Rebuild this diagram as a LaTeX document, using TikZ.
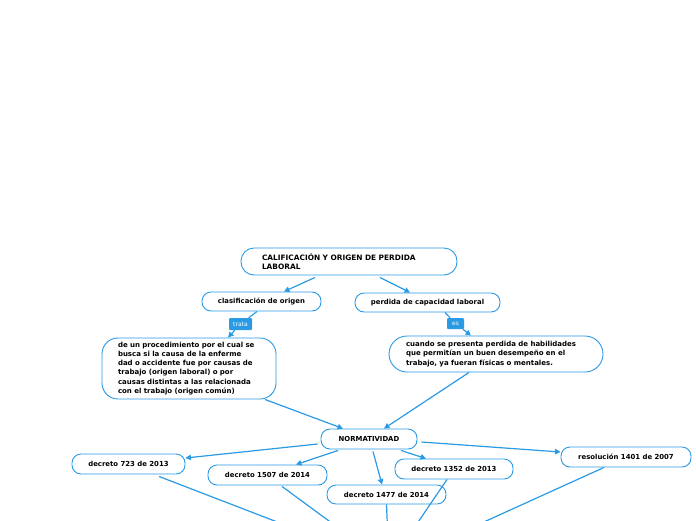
\documentclass[tikz,border=0pt]{standalone}
\usepackage{fontspec}
\setmainfont{DejaVu Sans}
\usetikzlibrary{arrows.meta}
\definecolor{mmblue}{HTML}{2A9AE5}
\begin{document}
\begin{tikzpicture}[x=1pt,y=-1pt,
  box/.style={draw=mmblue, line width=0.9pt, rounded corners=9pt, fill=white,
    font=\fontsize{6.9}{9}\selectfont\bfseries, inner sep=0pt, align=center},
  bigbox/.style={box, rounded corners=16pt, align=left, font=\fontsize{7}{9.1}\selectfont\bfseries},
  lab/.style={fill=mmblue, text=white, font=\fontsize{6}{7}\selectfont,
    inner sep=0pt, rounded corners=1pt},
  conn/.style={draw=mmblue, line width=1.2pt},
  arr/.style={conn, -{Triangle[length=5.5pt,width=5.5pt]}}]
\useasboundingbox (0,0) rectangle (696,520);
% nodes
\node[bigbox, rounded corners=13pt, minimum height=27pt, text width=174pt, inner xsep=21pt,
  font=\fontsize{7.4}{9.3}\selectfont\bfseries]
  (title) at (349,261.5) {CALIFICACIÓN Y ORIGEN DE PERDIDA\\LABORAL};
\node[box, minimum width=119pt, minimum height=19pt] (clas) at (261.5,301.5) {clasificación de origen};
\node[box, minimum width=145pt, minimum height=19pt] (perd) at (427.5,302.5) {perdida de capacidad laboral};
\node[lab, minimum width=23pt, minimum height=12pt] (trata) at (240.5,324) {trata};
\node[lab, minimum width=17pt, minimum height=11pt] (es) at (455.5,323.5) {es};
\node[bigbox, minimum height=61pt, text width=142pt, inner xsep=16pt] (left) at (189,368.5)
  {de un procedimiento por el cual se\\busca si la causa de la enferme\\dad o accidente fue por causas de\\trabajo (origen laboral) o por\\causas distintas a las relacionada\\con el trabajo (origen común)};
\node[bigbox, minimum height=36pt, text width=180pt, inner xsep=17pt, rounded corners=18pt] (right) at (496,354)
  {cuando se presenta perdida de habilidades\\que permitían un buen desempeño en el\\trabajo, ya fueran físicas o mentales.};
\node[box, minimum width=96pt, minimum height=20pt] (norm) at (369,439) {NORMATIVIDAD};
\node[box, minimum width=113pt, minimum height=20pt] (d723) at (128.5,464) {decreto 723 de 2013};
\node[box, minimum width=119pt, minimum height=20pt] (d1507) at (267.5,475) {decreto 1507 de 2014};
\node[box, minimum width=118pt, minimum height=20pt] (d1352) at (454,469) {decreto 1352 de 2013};
\node[box, minimum width=119pt, minimum height=19pt] (d1477) at (386.5,494.5) {decreto 1477 de 2014};
\node[box, minimum width=130pt, minimum height=20pt] (res) at (626,457) {resolución 1401 de 2007};
\coordinate (bot) at (389,565);
% connectors
\draw[arr] ([xshift=-34pt,yshift=-2pt]title.south) -- ([xshift=22.5pt]clas.north);
\draw[arr] ([xshift=31pt,yshift=-2pt]title.south) -- ([xshift=-17.5pt]perd.north);
\draw[conn] ([xshift=-4.5pt]clas.south) -- (trata);
\draw[arr] (trata) -- ([xshift=39pt]left.north);
\draw[conn] ([xshift=17.5pt]perd.south) -- (es);
\draw[arr] (es) -- ([xshift=-25pt]right.north);
\draw[arr] ([xshift=76pt]left.south) -- ([xshift=-26pt]norm.north);
\draw[arr] ([xshift=-27pt]right.south) -- ([xshift=15pt]norm.north);
\draw[arr] ([xshift=-3pt,yshift=-5pt]norm.west) -- ([yshift=6pt]d723.east);
\draw[arr] ([xshift=-31pt,yshift=-1pt]norm.south) -- ([xshift=28.5pt]d1507.north);
\draw[arr] ([xshift=4pt,yshift=-2pt]norm.south) -- ([xshift=-4.5pt]d1477.north);
\draw[arr] ([xshift=32pt,yshift=-1pt]norm.south) -- ([xshift=-28pt]d1352.north);
\draw[arr] ([xshift=4pt,yshift=-3pt]norm.east) -- ([yshift=5pt]res.west);
\draw[conn] ([xshift=30.5pt,yshift=-2pt]d723.south) -- (bot);
\draw[conn] ([xshift=14.5pt,yshift=-1pt]d1507.south) -- (bot);
\draw[conn] (d1477.south) -- (bot);
\draw[conn] ([xshift=-7pt]d1352.south) -- (bot);
\draw[conn] ([xshift=-22pt]res.south) -- (bot);
\end{tikzpicture}
\end{document}
